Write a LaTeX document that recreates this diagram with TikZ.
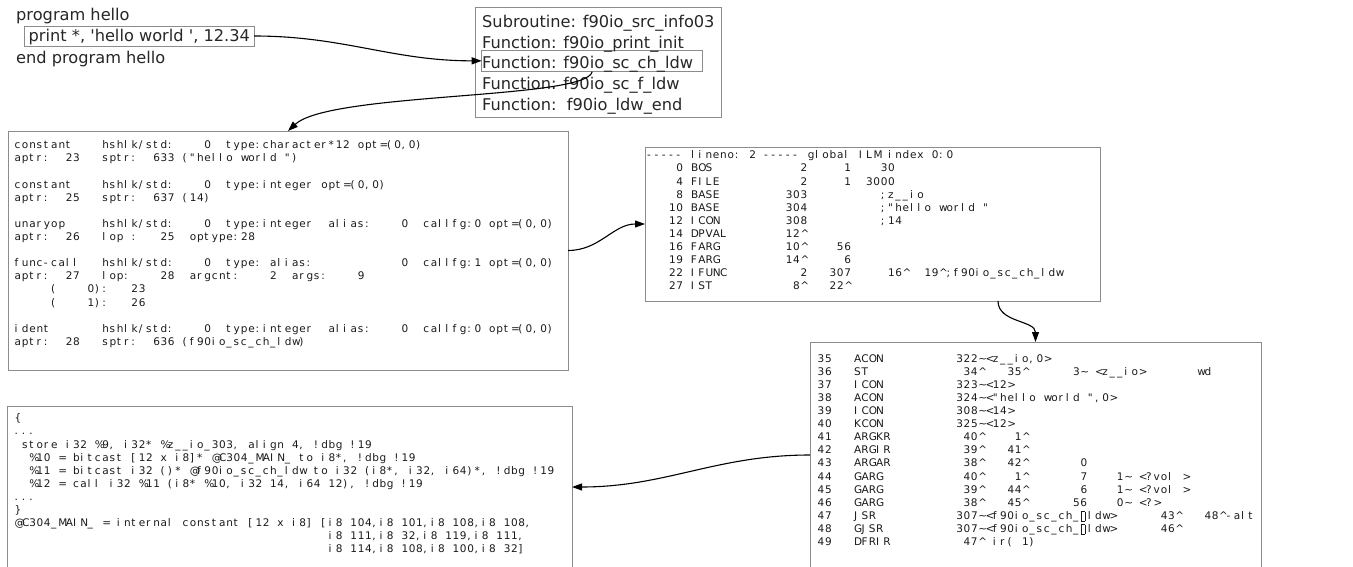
\documentclass[tikz,border=0pt]{standalone}
\usepackage{fontspec}
\usetikzlibrary{arrows.meta}
\newfontfamily\uifont{DejaVu Sans}
\newfontfamily\cellfont{DejaVu Sans}
\newlength\cellw
\setlength\cellw{7.3pt}
\newcommand\rkstrut{\vrule height 9.4pt depth 3.7pt width 0pt\relax}
\newcommand\rkmissing{\raisebox{-1.5pt}{\setlength\fboxsep{0pt}\setlength\fboxrule{0.5pt}\fbox{\rule{0pt}{9pt}\hspace{3.5pt}}}}
\ExplSyntaxOn
\str_new:N \l__rk_line_str
\int_new:N \l__rk_col_int
\int_new:N \l__rk_target_int
\bool_new:N \l__rk_num_bool
\tl_new:N \l__rk_num_tl
\cs_generate_variant:Nn \str_replace_all:Nnn { NnV }
\cs_new_protected:Npn \rk_cell:n #1
  {
    \hbox_to_wd:nn { \cellw } { #1 \hss }
    \int_incr:N \l__rk_col_int
  }
\cs_new_protected:Npn \rk_char:n #1
  {
    \bool_if:NTF \l__rk_num_bool
      {
        \str_if_eq:nnTF {#1} {|}
          {
            \bool_set_false:N \l__rk_num_bool
            \int_set:Nn \l__rk_target_int { \l__rk_num_tl }
            \int_while_do:nNnn { \l__rk_col_int } < { \l__rk_target_int }
              { \rk_cell:n { } }
          }
          { \tl_put_right:Nn \l__rk_num_tl {#1} }
      }
      {
        \str_if_eq:nnTF {#1} {|}
          { \bool_set_true:N \l__rk_num_bool \tl_clear:N \l__rk_num_tl }
          {
            \str_if_eq:nnTF {#1} {`}
              { \rk_cell:n { \rkmissing } }
              { \rk_cell:n {#1} }
          }
      }
  }
\NewDocumentCommand \ML { m }
  {
    \str_set:Nn \l__rk_line_str {#1}
    \str_replace_all:NnV \l__rk_line_str { \% } \c_percent_str
    \str_replace_all:NnV \l__rk_line_str { \{ } \c_left_brace_str
    \str_replace_all:NnV \l__rk_line_str { \} } \c_right_brace_str
    \int_zero:N \l__rk_col_int
    \bool_set_false:N \l__rk_num_bool
    \hbox:n
      {
        \rkstrut
        \str_map_inline:Nn \l__rk_line_str { \rk_char:n {##1} }
      }
  }
\ExplSyntaxOff
\tikzset{
  boxr/.style={draw=black!45, line width=0.9pt, inner sep=0pt, outer sep=0pt, anchor=north west},
  conn/.style={draw=black, line width=1.1pt, -{Triangle[length=10pt,width=7pt]}},
  celltext/.style={anchor=north west, inner sep=0pt, font=\cellfont\fontsize{10.5pt}{13.1pt}\selectfont, text=black!90},
  uitext/.style={anchor=base west, inner sep=0pt, font=\uifont\fontsize{16.2pt}{20pt}\selectfont, text=black!85}
}
\begin{document}
\begin{tikzpicture}[x=1pt,y=1pt]
\useasboundingbox (0,0) rectangle (1353,-567);
% ---------- top left program ----------
\node[uitext] (prog) at (16,-21) {program hello};
\node[boxr, minimum width=230, minimum height=20] (pr) at (24,-26) {};
\node[uitext] (prt) at (28.5,-41.5) {print *, 'hello world ', 12.34};
\node[uitext] (endp) at (16,-63.5) {end program hello};
% ---------- top right function list ----------
\node[boxr, minimum width=246.7, minimum height=110] (fl) at (475,-7.3) {};
\node[boxr, minimum width=221, minimum height=21.7] (fn3) at (481.7,-50) {};
\node[uitext] (f1) at (482,-27.5) {Subroutine: f90io\_src\_info03};
\node[uitext] (f2) at (482,-48.2) {Function: f90io\_print\_init};
\node[uitext] (f3) at (482,-68.9) {Function: f90io\_sc\_ch\_ldw};
\node[uitext] (f4) at (482,-89.6) {Function: f90io\_sc\_f\_ldw};
\node[uitext] (f5) at (482,-110.3) {Function:\ \ f90io\_ldw\_end};
% ---------- AST box ----------
\node[boxr, minimum width=560, minimum height=239] (b1) at (8,-131) {};
\node[celltext] (t1) at (14.5,-139.25) {\vbox{\offinterlineskip
\ML{constant|12|hshlk/std:|26|0|29|type:character*12 opt=(0,0)}
\ML{aptr:|7|23|12|sptr:|19|633 ("hello world ")}
\ML{}
\ML{constant|12|hshlk/std:|26|0|29|type:integer opt=(0,0)}
\ML{aptr:|7|25|12|sptr:|19|637 (14)}
\ML{}
\ML{unaryop|12|hshlk/std:|26|0|29|type:integer|43|alias:|53|0|56|callfg:0 opt=(0,0)}
\ML{aptr:|7|26|12|lop :|20|25|24|optype:28}
\ML{}
\ML{func-call|12|hshlk/std:|26|0|29|type:|35|alias:|53|0|56|callfg:1 opt=(0,0)}
\ML{aptr:|7|27|12|lop:|20|28|24|argcnt:|35|2|38|args:|47|9}
\ML{|5|(|10|0):|16|23}
\ML{|5|(|10|1):|16|26}
\ML{}
\ML{ident|12|hshlk/std:|26|0|29|type:integer|43|alias:|53|0|56|callfg:0 opt=(0,0)}
\ML{aptr:|7|28|12|sptr:|19|636 (f90io_sc_ch_ldw)}
}};
% ---------- ILM box ----------
\node[boxr, minimum width=455, minimum height=154] (ilm) at (645,-147) {};
\node[celltext] (t2) at (647,-149.25) {\vbox{\offinterlineskip
\ML{----- lineno: 2 ----- global ILM index 0:0}
\ML{|4|0|6|BOS|21|2|27|1|32|30}
\ML{|4|4|6|FILE|21|2|27|1|30|3000}
\ML{|4|8|6|BASE|19|303|32|;z__io}
\ML{|3|10|6|BASE|19|304|32|;"hello world "}
\ML{|3|12|6|ICON|19|308|32|;14}
\ML{|3|14|6|DPVAL|19|12^}
\ML{|3|16|6|FARG|19|10^|26|56}
\ML{|3|19|6|FARG|19|14^|27|6}
\ML{|3|22|6|IFUNC|21|2|25|307|33|16^|38|19^;f90io_sc_ch_ldw}
\ML{|3|27|6|IST|20|8^|25|22^}
}};
% ---------- ILI box ----------
\node[boxr, minimum width=451, minimum height=226] (br) at (810,-342) {};
\node[celltext] (t3) at (817.5,-352.55) {\vbox{\offinterlineskip
\ML{35|5|ACON|19|322~<z__io,0>}
\ML{36|5|ST|20|34^|26|35^|35|3~|38|<z__io>|52|wd}
\ML{37|5|ICON|19|323~<12>}
\ML{38|5|ACON|19|324~<"hello world ",0>}
\ML{39|5|ICON|19|308~<14>}
\ML{40|5|KCON|19|325~<12>}
\ML{41|5|ARGKR|20|40^|27|1^}
\ML{42|5|ARGIR|20|39^|26|41^}
\ML{43|5|ARGAR|20|38^|26|42^|36|0}
\ML{44|5|GARG|20|40^|27|1^|36|7|41|1~|44|<?vol >}
\ML{45|5|GARG|20|39^|26|44^|36|6|41|1~|44|<?vol >}
\ML{46|5|GARG|20|38^|26|45^|35|56|41|0~|44|<?>}
\ML{47|5|JSR|19|307~<f90io_sc_ch_`ldw>|47|43^|53|48^-alt}
\ML{48|5|GJSR|19|307~<f90io_sc_ch_`ldw>|47|46^}
\ML{49|5|DFRIR|20|47^ ir( 1)}
}};
% ---------- LLVM box ----------
\node[boxr, minimum width=564.5, minimum height=162] (bl) at (7.5,-406) {};
\node[celltext] (t4) at (14.5,-412.25) {\vbox{\offinterlineskip
\ML{\{}
\ML{...}
\ML{|1|store i32 \%9, i32* \%z__io_303, align 4, !dbg !19}
\ML{|2|\%10 = bitcast [12 x i8]* @C304_MAIN_ to i8*, !dbg !19}
\ML{|2|\%11 = bitcast i32 ()* @f90io_sc_ch_ldw to i32 (i8*, i32, i64)*, !dbg !19}
\ML{|2|\%12 = call i32 \%11 (i8* \%10, i32 14, i64 12), !dbg !19}
\ML{...}
\ML{\}}
\ML{@C304_MAIN_ = internal constant [12 x i8] [i8 104,i8 101,i8 108,i8 108,}
\ML{|43|i8 111,i8 32,i8 119,i8 111,}
\ML{|43|i8 114,i8 108,i8 100,i8 32]}
}};
% ---------- connectors ----------
\coordinate (ilmout) at (998,-301);
\draw[conn] (pr.east) to[out=0,in=180] (fn3.west);
\draw[conn] (fn3.south) .. controls +(-6,-28) and +(42,39) .. (b1.north);
\draw[conn] (b1.east) to[out=0,in=180] (ilm.west);
\draw[conn] (ilmout) to[out=-90,in=90] (br.north);
\draw[conn] (br.west) to[out=180,in=0] (bl.east);
\end{tikzpicture}
\end{document}
